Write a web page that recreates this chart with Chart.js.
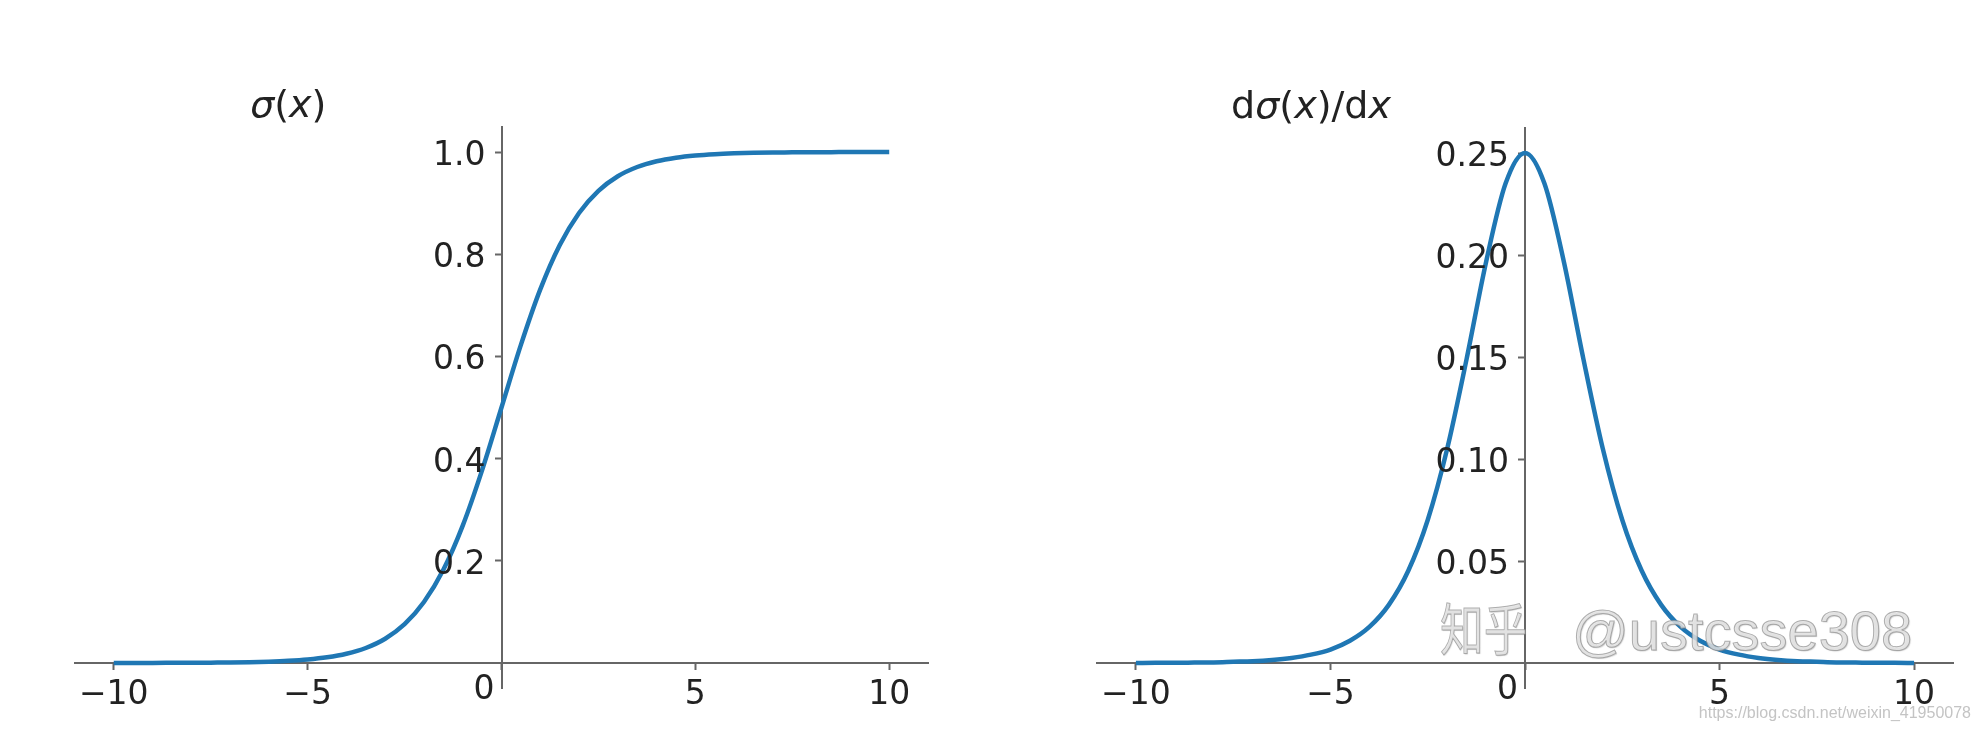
<!DOCTYPE html>
<html>
<head>
<meta charset="utf-8">
<script src="https://cdn.jsdelivr.net/npm/chart.js@4.4.0/dist/chart.umd.min.js"></script>
<style>
body { margin: 0; background: #fff; width: 1981px; height: 736px; overflow: hidden; position: relative; }
canvas { position: absolute; top: 0; }
#sigmaChart { left: 0; }
#dsigmaChart { left: 990px; }
#wm {
    position: absolute; left: 1440px; top: 603px; white-space: nowrap;
    font: 56px "Liberation Sans", "Noto Sans CJK SC"; line-height: 1;
    color: rgba(230, 230, 230, 0.8);
    -webkit-text-stroke: 1px rgba(135, 135, 135, 0.65);
    text-shadow: 1px 1px 1px rgba(120, 120, 120, 0.35);
}
#wm .cn { display: inline-block; transform: scaleX(0.78); transform-origin: left center; margin-right: 20px; }
#url {
    position: absolute; right: 10px; top: 704px; white-space: nowrap;
    font: 16px "Liberation Sans"; color: #c4c4c4;
}
</style>
</head>
<body>
<canvas id="sigmaChart" width="990" height="736"></canvas>
<canvas id="dsigmaChart" width="991" height="736"></canvas>
<div id="wm"><span class="cn">知乎</span>@ustcsse308</div>
<div id="url">https://blog.csdn.net/weixin_41950078</div>
<script>
const xValues = [-10, -9.5, -9, -8.5, -8, -7.5, -7, -6.5, -6, -5.5, -5, -4.5, -4, -3.5, -3, -2.5, -2, -1.5, -1, -0.5,
    0, 0.5, 1, 1.5, 2, 2.5, 3, 3.5, 4, 4.5, 5, 5.5, 6, 6.5, 7, 7.5, 8, 8.5, 9, 9.5, 10];

const sigmaValues = [0.0000, 0.0001, 0.0001, 0.0002, 0.0003, 0.0006, 0.0009, 0.0015, 0.0025, 0.0041,
    0.0067, 0.0110, 0.0180, 0.0293, 0.0474, 0.0759, 0.1192, 0.1824, 0.2689, 0.3775,
    0.5000, 0.6225, 0.7311, 0.8176, 0.8808, 0.9241, 0.9526, 0.9707, 0.9820, 0.9890,
    0.9933, 0.9959, 0.9975, 0.9985, 0.9991, 0.9994, 0.9997, 0.9998, 0.9999, 0.9999, 1.0000];

const dSigmaValues = [0.0000, 0.0001, 0.0001, 0.0002, 0.0003, 0.0006, 0.0009, 0.0015, 0.0025, 0.0041,
    0.0066, 0.0109, 0.0177, 0.0285, 0.0452, 0.0701, 0.1050, 0.1491, 0.1966, 0.2350,
    0.2500, 0.2350, 0.1966, 0.1491, 0.1050, 0.0701, 0.0452, 0.0285, 0.0177, 0.0109,
    0.0066, 0.0041, 0.0025, 0.0015, 0.0009, 0.0006, 0.0003, 0.0002, 0.0001, 0.0001, 0.0000];

const xTicks = [-10, -5, 0, 5, 10];
const sigmaTicks = [0.2, 0.4, 0.6, 0.8, 1.0];
const dSigmaTicks = [0.05, 0.10, 0.15, 0.20, 0.25];

const axisColor = '#666666';
const textColor = '#222222';
const tickFont = { family: 'DejaVu Sans', size: 33 };

function minusLabel(v) {
    if (v === 0) return '';
    return v < 0 ? '\u2212' + Math.abs(v) : String(v);
}

// Chart.js puts y labels flush against an axis placed at x=0, so they are drawn here,
// together with the mixed italic title and the lone "0" left of the origin
function makeDecor(parts, yTicks, digits) {
    return {
        id: 'decor',
        afterDraw(chart) {
            const ctx = chart.ctx;
            const xs = chart.scales.x, ys = chart.scales.y;
            const x0 = xs.getPixelForValue(0), y0 = ys.getPixelForValue(0);
            ctx.save();
            ctx.fillStyle = textColor;
            ctx.textBaseline = 'alphabetic';
            ctx.textAlign = 'left';
            let w = 0;
            parts.forEach(p => {
                ctx.font = (p[1] ? 'italic ' : '') + '38px "DejaVu Sans"';
                w += ctx.measureText(p[0]).width;
            });
            let cx = xs.getPixelForValue(-5.5) - w / 2;
            const cy = chart.chartArea.top - 10;
            parts.forEach(p => {
                ctx.font = (p[1] ? 'italic ' : '') + '38px "DejaVu Sans"';
                ctx.fillText(p[0], cx, cy);
                cx += ctx.measureText(p[0]).width;
            });

            ctx.font = '33px "DejaVu Sans"';
            ctx.textAlign = 'right';
            yTicks.forEach(v => {
                ctx.fillText(v.toFixed(digits), x0 - 16, ys.getPixelForValue(v) + 13);
            });
            ctx.fillText('0', x0 - 7, y0 + 36);
            ctx.restore();
        }
    };
}

function makeChart(id, values, yMin, yMax, yTicks, digits, padding, parts) {
    const ctx = document.getElementById(id).getContext('2d');
    return new Chart(ctx, {
        type: 'line',
        data: {
            datasets: [{
                data: xValues.map((x, i) => ({ x: x, y: values[i] })),
                borderColor: '#1f77b4',
                borderWidth: 4.5,
                pointRadius: 0,
                cubicInterpolationMode: 'monotone',
                fill: false
            }]
        },
        options: {
            responsive: false,
            animation: false,
            layout: { padding: padding },
            plugins: { legend: { display: false }, tooltip: { enabled: false } },
            scales: {
                x: {
                    type: 'linear',
                    min: -11, max: 11,
                    position: { y: 0 },
                    afterBuildTicks: s => { s.ticks = xTicks.map(v => ({ value: v })); },
                    ticks: { font: tickFont, color: textColor, padding: 7, maxRotation: 0, callback: minusLabel },
                    grid: { drawOnChartArea: false, drawTicks: true, tickLength: 6, tickColor: axisColor, tickWidth: 2 },
                    border: { display: true, color: axisColor, width: 2 }
                },
                y: {
                    type: 'linear',
                    min: yMin, max: yMax,
                    position: { x: 0 },
                    afterBuildTicks: s => { s.ticks = yTicks.map(v => ({ value: v })); },
                    ticks: { display: false },
                    grid: { drawOnChartArea: false, drawTicks: true, tickLength: 6, tickColor: axisColor, tickWidth: 2 },
                    border: { display: true, color: axisColor, width: 2 }
                }
            }
        },
        plugins: [makeDecor(parts, yTicks, digits)]
    });
}

makeChart('sigmaChart', sigmaValues, -0.05, 1.05, sigmaTicks, 1,
    { left: 75, right: 62, top: 126.5, bottom: 47.5 },
    [['σ', true], ['(', false], ['x', true], [')', false]]);

makeChart('dsigmaChart', dSigmaValues, -0.0125, 0.2625, dSigmaTicks, 2,
    { left: 107, right: 28, top: 127.5, bottom: 47.5 },
    [['d', false], ['σ', true], ['(', false], ['x', true], [')/d', false], ['x', true]]);
</script>
</body>
</html>
